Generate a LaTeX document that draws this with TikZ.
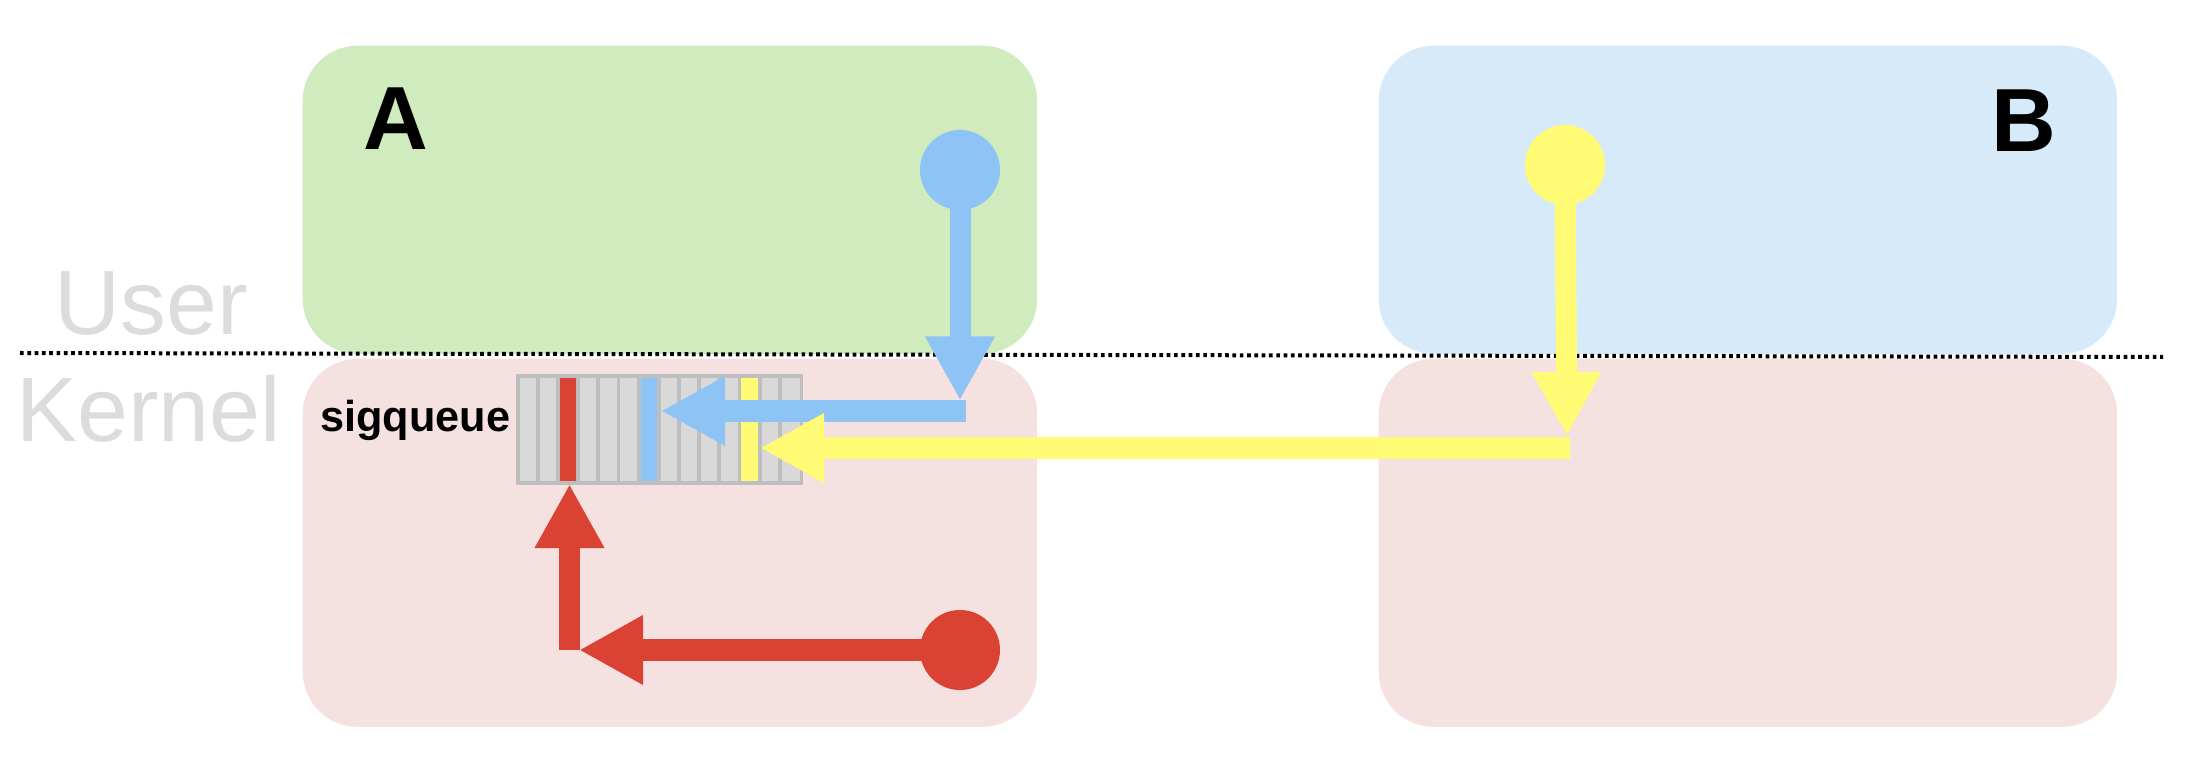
\documentclass[tikz,border=0pt]{standalone}
\usepackage{fontspec}
\setmainfont{Liberation Sans}
\usetikzlibrary{arrows.meta}
\definecolor{usergreen}{RGB}{208,235,190}
\definecolor{userblue}{RGB}{214,234,250}
\definecolor{kernpink}{RGB}{245,225,223}
\definecolor{sigblue}{RGB}{142,196,245}
\definecolor{sigyellow}{RGB}{255,251,116}
\definecolor{sigred}{RGB}{218,67,51}
\definecolor{labelgray}{RGB}{220,220,220}
\definecolor{cellgray}{RGB}{217,217,217}
\definecolor{cellline}{RGB}{190,190,190}
\begin{document}
\begin{tikzpicture}[x=0.01cm,y=-0.01cm,
  region/.style={rounded corners=0.55cm, inner sep=0pt, anchor=north west},
  spacelabel/.style={anchor=base, inner sep=0pt, text=labelgray, font=\fontsize{26}{30}\selectfont},
  proclabel/.style={anchor=base, inner sep=0pt, font=\fontsize{25.5}{30}\selectfont\bfseries},
  srcdot/.style={circle, inner sep=0pt, minimum size=0.8cm},
  sigarrow/.style={line width=0.21cm, -{Triangle[length=0.64cm,width=0.65cm]}},
  gridline/.style={draw=cellline, line width=0.038cm},
  dotline/.style={line width=0.04cm, dash pattern=on 0.037cm off 0.036cm}]
\useasboundingbox (0,0) rectangle (2190,764);
% regions
\node[region, fill=usergreen, minimum width=7.34cm, minimum height=3.08cm] (userA) at (302,45) {};
\node[region, fill=kernpink, minimum width=7.34cm, minimum height=3.68cm] (kernA) at (302,358) {};
\node[region, fill=userblue, minimum width=7.38cm, minimum height=3.08cm] (userB) at (1378,45) {};
\node[region, fill=kernpink, minimum width=7.38cm, minimum height=3.68cm] (kernB) at (1378,358) {};
% labels
\node[proclabel] (labA) at (396,150) {A};
\node[proclabel] (labB) at (2024,152) {B};
\node[spacelabel] (labUser) at (151,335) {User};
\node[spacelabel] (labKernel) at (148.5,442) {Kernel};
% divider
\coordinate (divL) at (20,353);
\coordinate (divR) at (2163,357);
\draw[dotline] (divL) -- (divR);
% queue
\node[fill=cellgray, inner sep=0pt, anchor=north west, minimum width=2.824cm, minimum height=1.057cm] (queue) at (517.6,376) {};
\fill[sigred] ({517.6+20.17*2},376) rectangle ({517.6+20.17*3},481.7);
\fill[sigblue] ({517.6+20.17*6},376) rectangle ({517.6+20.17*7},481.7);
\fill[sigyellow] ({517.6+20.17*11},376) rectangle ({517.6+20.17*12},481.7);
\foreach \k in {1,...,13} {
  \draw[gridline] ({517.6+20.17*\k},376) -- ({517.6+20.17*\k},481.7);
}
\draw[gridline] (queue.north west) rectangle (queue.south east);
\node[anchor=base east, inner sep=0pt, font=\fontsize{12.3}{14}\selectfont\bfseries] (qlab) at (511,432) {sigqueue};
% sources
\node[srcdot, fill=sigblue] (blueSrc) at (960,170) {};
\node[srcdot, fill=sigyellow] (yelSrc) at (1565,165) {};
\node[srcdot, fill=sigred] (redSrc) at (960,650) {};
% blue path
\coordinate (blueTurn) at (960,400.5);
\coordinate (blueTurnR) at (966,411);
\coordinate (blueIn) at (661,411);
\draw[sigarrow, sigblue] (blueSrc.center) -- (blueTurn);
\draw[sigarrow, sigblue] (blueTurnR) -- (blueIn);
% yellow path
\coordinate (yelTurn) at (1567,436);
\coordinate (yelTurnR) at (1570,448);
\coordinate (yelIn) at (760,448);
\draw[sigarrow, sigyellow] (yelSrc.center) -- (yelTurn);
\draw[sigarrow, sigyellow] (yelTurnR) -- (yelIn);
% red path
\coordinate (redTurn) at (579,650);
\coordinate (redTurnB) at (569.5,650);
\coordinate (redIn) at (569.5,484);
\draw[sigarrow, sigred] (redSrc.center) -- (redTurn);
\draw[sigarrow, sigred] (redTurnB) -- (redIn);
\end{tikzpicture}
\end{document}
